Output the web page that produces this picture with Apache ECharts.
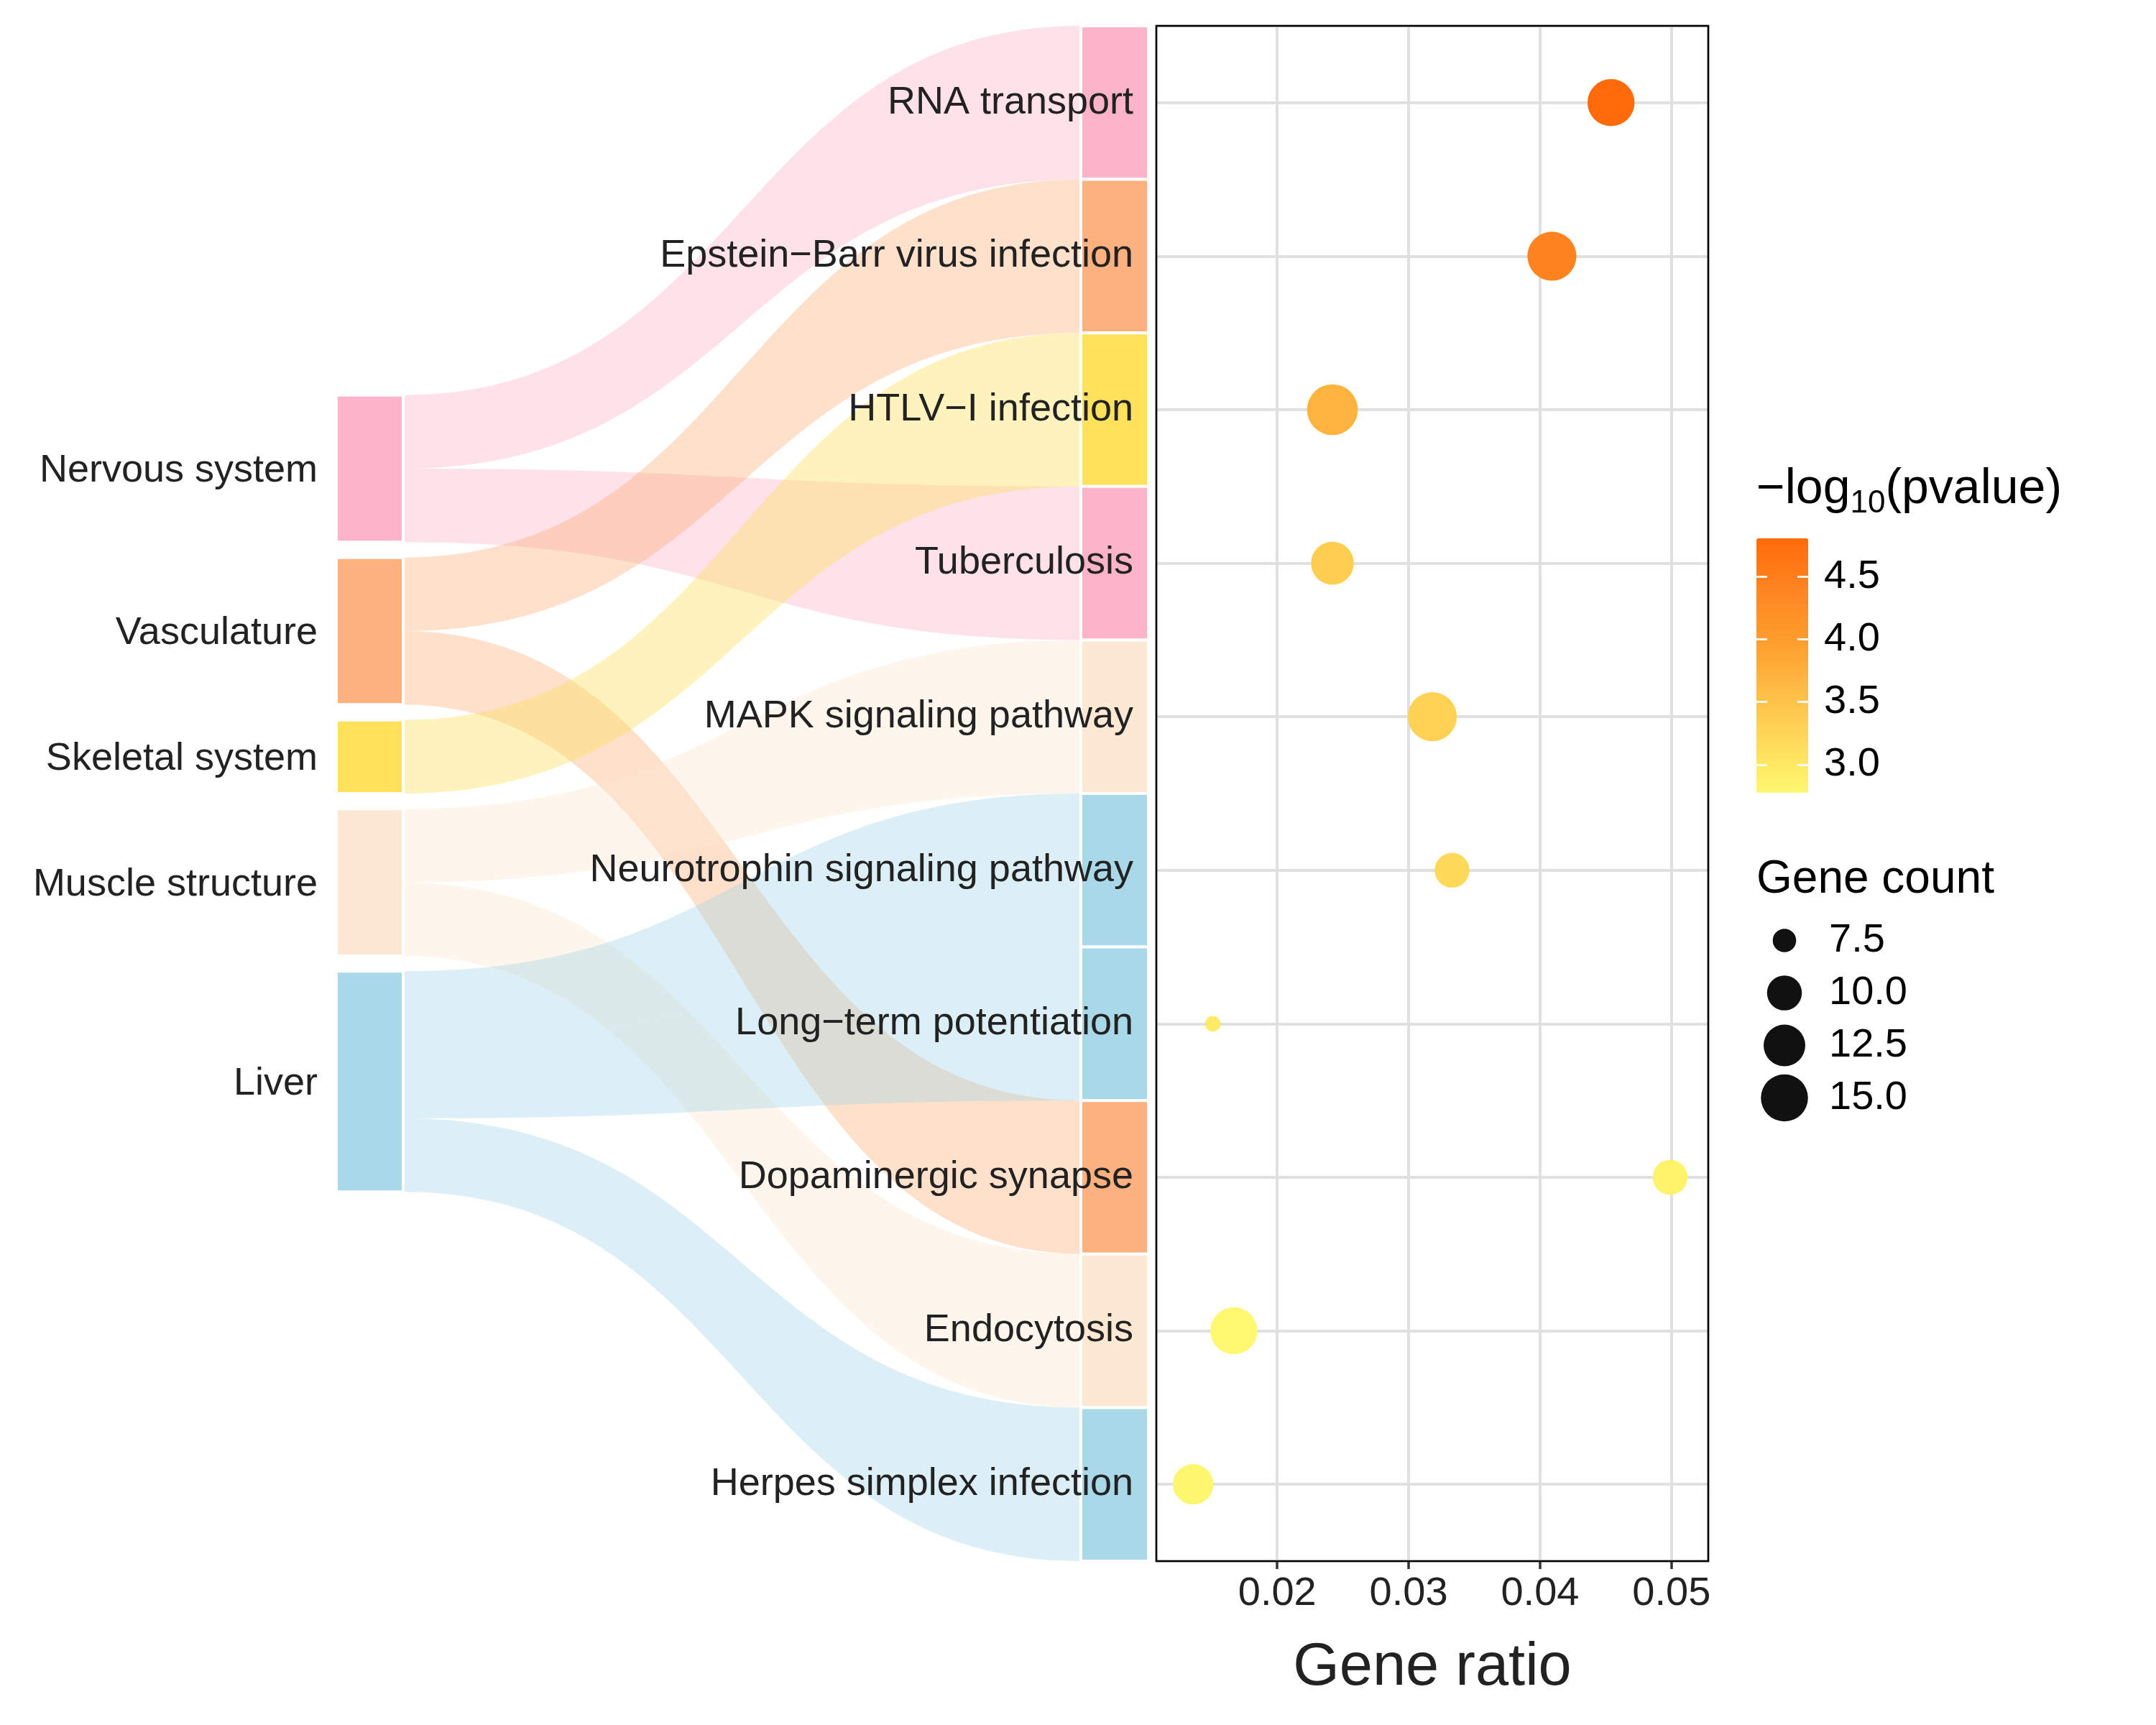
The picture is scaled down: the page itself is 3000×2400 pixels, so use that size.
<!DOCTYPE html>
<html>
<head>
<meta charset="utf-8">
<script src="https://cdn.jsdelivr.net/npm/echarts@6/dist/echarts.min.js"></script>
<style>
html,body{margin:0;padding:0;background:#ffffff;}
#chart{width:3000px;height:2400px;}
</style>
</head>
<body>
<div id="chart"></div>
<script>
// ---------------- data ----------------
const pathways = ['RNA transport', 'Epstein\u2212Barr virus infection', 'HTLV\u2212I infection', 'Tuberculosis',
  'MAPK signaling pathway', 'Neurotrophin signaling pathway', 'Long\u2212term potentiation',
  'Dopaminergic synapse', 'Endocytosis', 'Herpes simplex infection'];
const pathwaySystem = ['Nervous system', 'Vasculature', 'Skeletal system', 'Nervous system',
  'Muscle structure', 'Liver', 'Liver', 'Vasculature', 'Muscle structure', 'Liver'];
const systems = ['Nervous system', 'Vasculature', 'Skeletal system', 'Muscle structure', 'Liver'];
const systemColors = ['#FDB3C8', '#FDB17E', '#FFE15B', '#FCE8D3', '#A9D8E8'];
const geneRatio = [0.0454, 0.0409, 0.0242, 0.0242, 0.0318, 0.0333, 0.0151, 0.0499, 0.0167, 0.0136];
const negLog10P = [4.806, 4.40, 3.70, 3.35, 3.30, 3.20, 2.95, 2.85, 2.776, 2.80];
const geneCount = [15, 16, 17, 13, 16, 10, 7, 10, 15, 12];
const ratioTicks = [0.02, 0.03, 0.04, 0.05];
const pTicks = [3.0, 3.5, 4.0, 4.5];
const countBreaks = [7.5, 10.0, 12.5, 15.0];

// ---------------- helpers / layout ----------------
const FONT = "'Liberation Sans', Arial, Helvetica, sans-serif";
const TEXT = '#222222';
const L_NODE_W = 0.0823;     // fraction of sankey grid width
const R_NODE_X = 0.9168;
const LEFT_UNIT = 0.479;     // left column height per pathway (in pathway-row units)
const LEFT_GAP = 0.10;
const CURV = 0.5;

function rgba(hex, a) {
  const n = parseInt(hex.slice(1), 16);
  return 'rgba(' + ((n >> 16) & 255) + ',' + ((n >> 8) & 255) + ',' + (n & 255) + ',' + a + ')';
}
const cMin = Math.min.apply(null, geneCount), cMax = Math.max.apply(null, geneCount);
const SIZE_RANGE = [21.6, 70.7];
function sizeOf(c) {
  const t = Math.max(0, (c - cMin) / (cMax - cMin));
  return SIZE_RANGE[0] + (SIZE_RANGE[1] - SIZE_RANGE[0]) * Math.sqrt(t);
}

// left node extents (derived from how many pathways each system feeds)
const sysCounts = systems.map(s => pathwaySystem.filter(p => p === s).length);
const span = sysCounts.reduce((a, b) => a + b, 0) * LEFT_UNIT + (systems.length - 1) * LEFT_GAP;
let cursor = (pathways.length - span) / 2;
const leftNodes = systems.map((s, i) => {
  const y0 = cursor, y1 = cursor + sysCounts[i] * LEFT_UNIT;
  cursor = y1 + LEFT_GAP;
  return [y0, y1, i];
});
const used = {};
const flows = pathways.map((p, i) => {
  const si = systems.indexOf(pathwaySystem[i]);
  const k = used[si] || 0; used[si] = k + 1;
  const y0 = leftNodes[si][0] + k * LEFT_UNIT;
  return [y0, y0 + LEFT_UNIT, i, i + 1, si];
});
flows.sort((a, b) => a[4] - b[4]);
const rightNodes = pathways.map((p, i) => [i, i + 1, systems.indexOf(pathwaySystem[i])]);

const scatterData = pathways.map((p, i) => [geneRatio[i], i, negLog10P[i], geneCount[i]]);
const legendData = countBreaks.map((c, i) => [0.5, i, c]);

const chart = echarts.init(document.getElementById('chart'), null, {renderer: 'canvas'});
const option = {
  backgroundColor: '#ffffff',
  animation: false,
  textStyle: {fontFamily: FONT},
  title: [
    {
      text: '{m|\u2212log}{s|10}{m|(pvalue)}',
      left: 2444, top: 647, padding: 0,
      textStyle: {
        rich: {
          m: {fontSize: 68, lineHeight: 68, fontFamily: FONT, color: '#000', fontWeight: 'normal', verticalAlign: 'top'},
          s: {fontSize: 44, lineHeight: 44, fontFamily: FONT, color: '#000', fontWeight: 'normal', verticalAlign: 'top', padding: [32, 0, 0, 0]}
        }
      }
    },
    {
      text: 'Gene count', left: 2444, top: 1192, padding: 0,
      textStyle: {fontSize: 64, fontWeight: 'normal', color: '#000', fontFamily: FONT}
    }
  ],
  grid: [
    {left: 1609, top: 36, width: 768, height: 2136, show: true, z: 5,
      backgroundColor: 'transparent', borderColor: '#000', borderWidth: 2.7},
    {left: 468, top: 36, width: 1130, height: 2136},
    {left: 2443, top: 1272, width: 80, height: 292},
    {left: 2444, top: 749, width: 72, height: 354}
  ],
  xAxis: [
    {
      gridIndex: 0, type: 'value', min: 0.0108, max: 0.0528, splitNumber: 4, position: 'bottom',
      axisLine: {show: false, onZero: false},
      axisTick: {show: true, length: 11, customValues: ratioTicks, lineStyle: {color: '#333', width: 3.5}},
      axisLabel: {customValues: ratioTicks,
        formatter: v => v.toFixed(2), fontSize: 56, color: TEXT, margin: 18, fontFamily: FONT},
      splitLine: {show: true, lineStyle: {color: '#E0E0E0', width: 4}},
      name: 'Gene ratio', nameLocation: 'middle', nameGap: 108,
      nameTextStyle: {fontSize: 83, color: TEXT, fontFamily: FONT}
    },
    {gridIndex: 1, type: 'value', min: 0, max: 1, show: false},
    {gridIndex: 2, type: 'value', min: 0, max: 1, show: false},
    {gridIndex: 3, type: 'value', min: 0, max: 1, show: false}
  ],
  yAxis: [
    {
      gridIndex: 0, type: 'value', min: -0.5, max: 9.5, splitNumber: 10, inverse: true,
      axisLine: {show: false, onZero: false}, axisTick: {show: false},
      axisLabel: {formatter: v => (Number.isInteger(v) && pathways[v]) ? pathways[v] : '',
        fontSize: 54, color: TEXT, margin: 32, fontFamily: FONT, padding: [6, 0, 0, 0]},
      splitLine: {show: true, lineStyle: {color: '#E0E0E0', width: 4}}
    },
    {gridIndex: 1, type: 'value', min: 0, max: 10, inverse: true, show: false},
    {
      gridIndex: 2, type: 'category', inverse: true, position: 'right',
      data: countBreaks.map(c => c.toFixed(1)),
      axisLine: {show: false, onZero: false}, axisTick: {show: false}, splitLine: {show: false},
      axisLabel: {fontSize: 56, color: '#000', margin: 22, fontFamily: FONT}
    },
    {
      gridIndex: 3, type: 'value', min: 2.776, max: 4.806, position: 'right', z: 10,
      axisLine: {show: false, onZero: false}, splitLine: {show: false},
      axisTick: {show: true, inside: true, length: 15, customValues: pTicks, lineStyle: {color: '#ffffff', width: 2.7}},
      axisLabel: {customValues: pTicks,
        formatter: v => v.toFixed(1), fontSize: 56, color: '#000', margin: 22, fontFamily: FONT}
    },
    {
      gridIndex: 3, type: 'value', min: 2.776, max: 4.806, position: 'left', z: 10,
      axisLine: {show: false, onZero: false}, splitLine: {show: false},
      axisTick: {show: true, inside: true, length: 15, customValues: pTicks, lineStyle: {color: '#ffffff', width: 2.7}},
      axisLabel: {show: false}
    }
  ],
  visualMap: {
    type: 'continuous', seriesIndex: 0, dimension: 2,
    min: 2.776, max: 4.806, orient: 'vertical',
    left: 2444, top: 749, itemWidth: 72, itemHeight: 354,
    calculable: false, padding: 0, showLabel: false, hoverLink: false,
    inRange: {color: ['#FFF870', '#FFDA5A', '#FEBC45', '#FE9D2D', '#FF8420', '#FF6B0A']}
  },
  series: [
    {
      type: 'scatter', xAxisIndex: 0, yAxisIndex: 0, z: 3,
      data: scatterData,
      symbol: 'circle',
      symbolSize: v => sizeOf(v[3]),
      itemStyle: {opacity: 1},
      emphasis: {disabled: true}
    },
    {
      type: 'custom', xAxisIndex: 1, yAxisIndex: 1, z: -2, clip: false,
      silent: true,
      data: flows,
      renderItem: function (params, api) {
        const ly0 = api.value(0), ly1 = api.value(1), ry0 = api.value(2), ry1 = api.value(3), si = api.value(4);
        const a0 = api.coord([L_NODE_W, ly0]), a1 = api.coord([L_NODE_W, ly1]);
        const b0 = api.coord([R_NODE_X, ry0]), b1 = api.coord([R_NODE_X, ry1]);
        const xa = a0[0], xb = b0[0], dx = xb - xa;
        const c1 = xa + dx * CURV, c2 = xb - dx * CURV;
        const d = 'M' + xa + ' ' + a0[1] +
          ' C' + c1 + ' ' + a0[1] + ' ' + c2 + ' ' + b0[1] + ' ' + xb + ' ' + b0[1] +
          ' L' + xb + ' ' + b1[1] +
          ' C' + c2 + ' ' + b1[1] + ' ' + c1 + ' ' + a1[1] + ' ' + xa + ' ' + a1[1] + ' Z';
        return {type: 'path', shape: {pathData: d}, style: {fill: rgba(systemColors[si], 0.4)}};
      }
    },
    {
      type: 'custom', xAxisIndex: 1, yAxisIndex: 1, z: -1, clip: false,
      silent: true,
      data: leftNodes,
      renderItem: function (params, api) {
        const y0 = api.value(0), y1 = api.value(1), ci = api.value(2);
        const p0 = api.coord([0, y0]), p1 = api.coord([L_NODE_W, y1]);
        return {
          type: 'group', children: [
            {type: 'rect', shape: {x: p0[0], y: p0[1], width: p1[0] - p0[0], height: p1[1] - p0[1]},
              style: {fill: systemColors[ci], stroke: '#fff', lineWidth: 4}},
            {type: 'text', style: {text: systems[ci], x: p0[0] - 26, y: (p0[1] + p1[1]) / 2 + 3,
              align: 'right', verticalAlign: 'middle', fill: TEXT, fontSize: 54, fontFamily: FONT}}
          ]
        };
      }
    },
    {
      type: 'custom', xAxisIndex: 1, yAxisIndex: 1, z: -1, clip: false,
      silent: true,
      data: rightNodes,
      renderItem: function (params, api) {
        const y0 = api.value(0), y1 = api.value(1), ci = api.value(2);
        const p0 = api.coord([R_NODE_X, y0]), p1 = api.coord([1, y1]);
        return {type: 'rect', shape: {x: p0[0], y: p0[1], width: p1[0] - p0[0], height: p1[1] - p0[1]},
          style: {fill: systemColors[ci], stroke: '#fff', lineWidth: 4}};
      }
    },
    {
      type: 'scatter', xAxisIndex: 2, yAxisIndex: 2,
      data: legendData, symbol: 'circle',
      symbolSize: v => sizeOf(v[2]),
      itemStyle: {color: '#111111', opacity: 1},
      silent: true
    }
  ]
};
chart.setOption(option);
</script>
</body>
</html>
